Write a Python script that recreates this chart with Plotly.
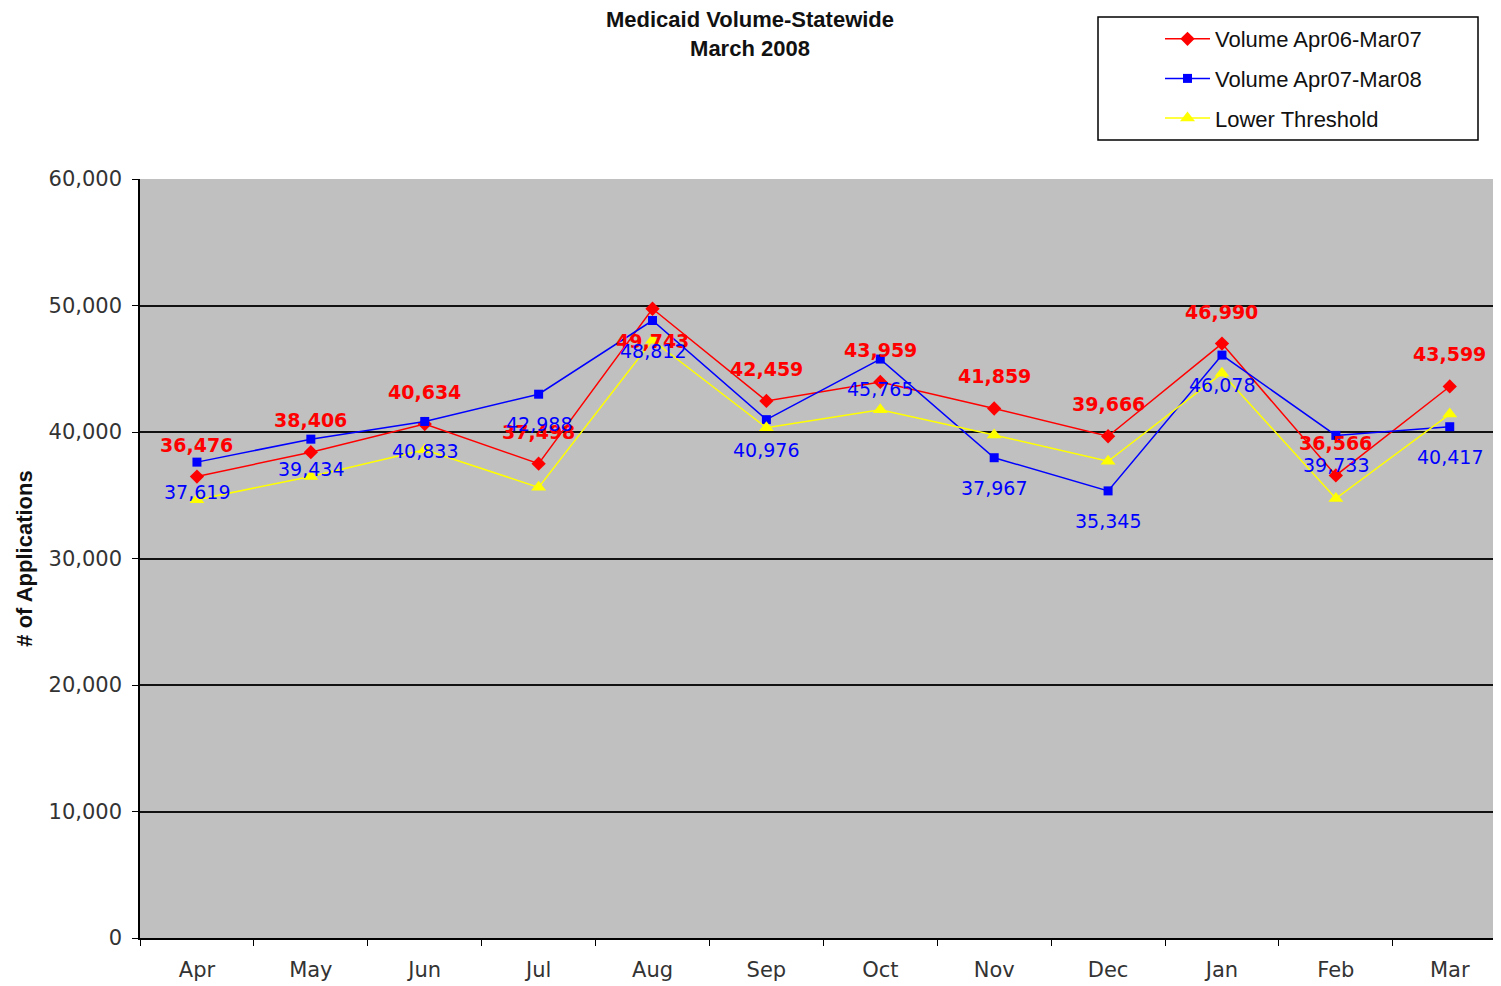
import plotly.graph_objects as go

months = ["Apr", "May", "Jun", "Jul", "Aug", "Sep", "Oct", "Nov", "Dec", "Jan", "Feb", "Mar"]
vol_0607 = [36476, 38406, 40634, 37498, 49743, 42459, 43959, 41859, 39666, 46990, 36566, 43599]
vol_0708 = [37619, 39434, 40833, 42988, 48812, 40976, 45765, 37967, 35345, 46078, 39733, 40417]
lower_threshold = [34652, 36486, 38602, 35623, 47256, 40336, 41761, 39766, 37683, 44641, 34738, 41419]
# label placement for the Apr06-Mar07 series: 1 above, -1 below
red_label_side = [1, 1, 1, 1, -1, 1, 1, 1, 1, 1, 1, 1]

OFF = 8  # page body margin
W, H = 1493, 978
L, R, T, B = 132, 0, 171, 48
pw = W - L - R
ph = H - T - B


def px_x(p):
    return (p - OFF - L) / pw


def px_y(p):
    return (H - B - (p - OFF)) / ph


fig = go.Figure()
fig.add_trace(go.Scatter(x=months, y=vol_0607, name="Volume Apr06-Mar07", mode="lines+markers",
                         line=dict(color="#FF0000", width=1.5),
                         marker=dict(symbol="diamond", size=11, color="#FF0000"),
                         legendgroup="a"))
fig.add_trace(go.Scatter(x=months, y=vol_0708, name="Volume Apr07-Mar08", mode="lines+markers",
                         line=dict(color="#0000FF", width=1.5),
                         marker=dict(symbol="square", size=9, color="#0000FF"),
                         legendgroup="b"))
fig.add_trace(go.Scatter(x=months, y=lower_threshold, name="Lower Threshold", mode="lines+markers",
                         line=dict(color="#FFFF00", width=1.5),
                         marker=dict(symbol="triangle-up", size=13, color="#FFFF00"),
                         legendgroup="c"))

ann = []
for m, v, s in zip(months, vol_0607, red_label_side):
    ann.append(dict(x=m, y=v, text=f"<b>{v:,}</b>", showarrow=False, yshift=32 * s,
                    font=dict(family="DejaVu Sans, Verdana", size=19, color="#FF0000")))
for m, v in zip(months, vol_0708):
    ann.append(dict(x=m, y=v, text=f"{v:,}", showarrow=False, yshift=-30,
                    font=dict(family="DejaVu Sans, Verdana", size=19, color="#0000FF")))

fig.update_layout(
    width=W, height=H,
    margin=dict(l=L, r=R, t=T, b=B),
    paper_bgcolor="white",
    plot_bgcolor="#C0C0C0",
    title=dict(text="<b>Medicaid Volume-Statewide<br>March 2008</b>",
               x=px_x(750), xref="paper", xanchor="center",
               yref="container", y=1 - (27 - OFF) / H, yanchor="middle",
               font=dict(family="Liberation Sans, Arial", size=22, color="#111")),
    annotations=ann,
    showlegend=True,
    legend=dict(x=px_x(1160), y=px_y(18), xanchor="left", yanchor="top",
                bgcolor="rgba(0,0,0,0)", borderwidth=0,
                traceorder="grouped", tracegroupgap=8, itemwidth=45,
                font=dict(family="Liberation Sans, Arial", size=22, color="#111")),
    shapes=[dict(type="rect", xref="paper", yref="paper",
                 x0=px_x(1098), x1=px_x(1478), y0=px_y(140), y1=px_y(17),
                 line=dict(color="black", width=1.5), fillcolor="white", layer="below")],
    xaxis=dict(type="category", range=[-0.5, 11.45], tickson="boundaries",
               ticks="outside", ticklen=6, tickcolor="black", ticklabelstandoff=12,
               showline=True, linecolor="black", linewidth=1.5, showgrid=False,
               tickfont=dict(family="DejaVu Sans, Verdana", size=21, color="#333")),
    yaxis=dict(range=[0, 60000], dtick=10000, tickformat=",",
               ticks="outside", ticklen=6, tickcolor="black", ticklabelstandoff=6,
               showline=True, linecolor="black", linewidth=1.5,
               showgrid=True, gridcolor="#111", gridwidth=1.5, zeroline=False,
               tickfont=dict(family="DejaVu Sans, Verdana", size=21, color="#333"),
               title=dict(text="<b># of Applications</b>", standoff=10,
                          font=dict(family="Liberation Sans, Arial", size=22, color="#111"))),
)

fig.write_html("out.html")
